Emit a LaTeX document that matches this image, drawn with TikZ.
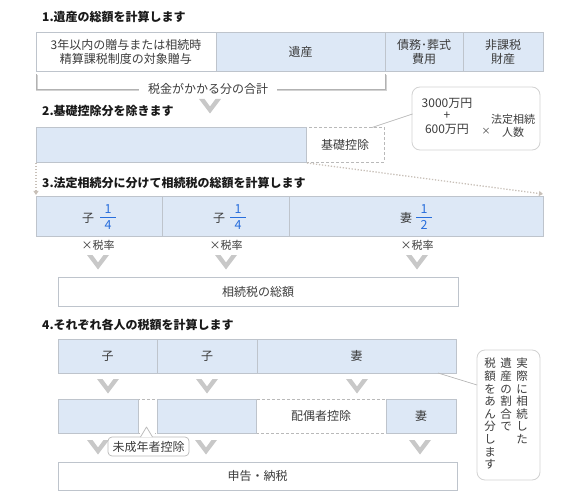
\documentclass[tikz,border=0pt]{standalone}
\usepackage{fontspec}
\setmainfont{Noto Sans CJK JP}
\usetikzlibrary{arrows.meta}
\definecolor{bfill}{RGB}{221,232,246}
\definecolor{bline}{RGB}{190,196,204}
\definecolor{fb}{RGB}{40,110,220}
\definecolor{chevc}{RGB}{200,200,200}
\definecolor{dotc}{RGB}{200,192,184}
\definecolor{txt}{RGB}{60,60,60}
\definecolor{ttl}{RGB}{25,25,25}
\tikzset{
  base/.style={font=\fontsize{12}{14}\selectfont, text=txt, inner sep=0pt},
  bbox/.style={base, draw=bline, fill=bfill, line width=0.8pt},
  wbox/.style={base, draw=bline, fill=white, line width=0.8pt},
  dbox/.style={base, draw=gray!55, dashed, dash pattern=on 3pt off 2pt, line width=0.7pt},
  ttlstyle/.style={font=\bfseries\fontsize{12}{14}\selectfont, text=ttl, inner sep=0pt, anchor=west},
  small/.style={font=\fontsize{11}{12}\selectfont, text=txt, inner sep=0pt},
  callout/.style={draw=gray!35, fill=white, rounded corners=8pt, line width=0.8pt, inner sep=0pt},
  chev/.pic={\fill[chevc] (-11,0) -- (-5.5,0) -- (0,7.5) -- (5.5,0) -- (11,0) -- (0,14.5) -- cycle;},
  dotline/.style={draw=dotc, line width=1.3pt, dash pattern=on 1.3pt off 1.7pt, -{Triangle[length=4pt,width=5pt]}},
  fnum/.style={font=\fontsize{12.5}{12}\selectfont, text=fb, inner sep=0pt},
}
\begin{document}
\begin{tikzpicture}[x=1pt,y=-1pt]
\useasboundingbox (0,0) rectangle (576,500);

% ---------- step 1 ----------
\node[ttlstyle] (t1) at (42,17) {1.遺産の総額を計算します};
\node[wbox, minimum width=180pt, minimum height=39pt, align=center] (r1a) at (126,51.5)
  {\fontsize{12}{16}\selectfont 3年以内の贈与または相続時\\精算課税制度の対象贈与};
\node[bbox, minimum width=169pt, minimum height=39pt] (r1b) at (300.5,51.5) {遺産};
\node[bbox, minimum width=78pt, minimum height=39pt, align=center] (r1c) at (424,51.5)
  {\fontsize{12}{16}\selectfont 債務･葬式\\費用};
\node[bbox, minimum width=80pt, minimum height=39pt, align=center] (r1d) at (503,51.5)
  {\fontsize{12}{16}\selectfont 非課税\\財産};

\coordinate (brA) at (36,74);
\coordinate (brB) at (36,89.5);
\coordinate (brC) at (385,89.5);
\coordinate (brD) at (385,74);
\draw[gray!35, line width=1.2pt] ([shift={(1,1)}]brA) -- ([shift={(1,1)}]brB) -- ([shift={(1,1)}]brC) -- ([shift={(1,1)}]brD);
\draw[gray!60, line width=1pt] (brA) -- (brB) -- (brC) -- (brD);
\node[base, fill=white, inner xsep=9pt, inner ysep=2pt] (sum) at (208,89) {税金がかかる分の合計};
\pic at (210,99) {chev};

% ---------- step 2 ----------
\node[ttlstyle] (t2) at (42,111) {2.基礎控除分を除きます};
\node[dbox, minimum width=78pt, minimum height=35pt] (kd) at (345,144.5) {基礎控除};
\node[bbox, minimum width=270pt, minimum height=35pt] (r2) at (171,144.5) {};

\node[callout, minimum width=128pt, minimum height=63pt] (kc) at (476,118.5) {};
\node[base] (kc1) at (447,103) {3000万円};
\node[base] (kc2) at (447,116) {+};
\node[base] (kc3) at (447,129) {600万円};
\node[small, font=\fontsize{9}{10}\selectfont] (kc4) at (486,131) {×};
\node[small, align=center, font=\fontsize{11}{13}\selectfont] (kc5) at (513,126) {法定相続\\人数};
\coordinate (kdtip) at (372,127.5);
\coordinate (kcin) at (412.5,114);
\draw[gray!55, line width=0.7pt] (kdtip) -- (kcin);

\coordinate (dl0) at (36,163);
\coordinate (dl1) at (36,195);
\coordinate (dr0) at (307,163);
\coordinate (dr1) at (543,194);
\draw[dotline] (dl0) -- (dl1);
\draw[dotline] (dr0) -- (dr1);

% ---------- step 3 ----------
\node[ttlstyle] (t3) at (42,183) {3.法定相続分に分けて相続税の総額を計算します};
\node[bbox, minimum width=126pt, minimum height=40pt] (r3a) at (99,216) {};
\node[bbox, minimum width=127pt, minimum height=40pt] (r3b) at (225.5,216) {};
\node[bbox, minimum width=254pt, minimum height=40pt] (r3c) at (416,216) {};

\node[base] (k1) at (88,218) {子};
\node[fnum] (f1n) at (108,209.5) {1};
\node[fnum] (f1d) at (108,225) {4};
\draw[fb, line width=0.8pt] (100,217) -- (116,217);
\node[base] (k2) at (219,218) {子};
\node[fnum] (f2n) at (238,209.5) {1};
\node[fnum] (f2d) at (238,225) {4};
\draw[fb, line width=0.8pt] (230,217) -- (246,217);
\node[base] (w1) at (406,218) {妻};
\node[fnum] (f3n) at (424,209.5) {1};
\node[fnum] (f3d) at (424,225) {2};
\draw[fb, line width=0.8pt] (416,217) -- (432,217);

\node[small] (x1) at (98,245) {×税率};
\node[small] (x2) at (226,245) {×税率};
\node[small] (x3) at (417,245) {×税率};
\pic at (98,255) {chev};
\pic at (226,255) {chev};
\pic at (417,255) {chev};

\node[wbox, minimum width=400pt, minimum height=29pt] (tot) at (258,291.5) {相続税の総額};

% ---------- step 4 ----------
\node[ttlstyle] (t4) at (42,325) {4.それぞれ各人の税額を計算します};
\node[bbox, minimum width=99pt, minimum height=34pt] (r4a) at (107.5,356) {子};
\node[bbox, minimum width=100pt, minimum height=34pt] (r4b) at (207,356) {子};
\node[bbox, minimum width=199pt, minimum height=34pt] (r4c) at (356.5,356) {妻};

\pic at (108,379) {chev};
\pic at (207,379) {chev};
\pic at (357,379) {chev};

\node[dbox, minimum width=19pt, minimum height=34pt] (gap) at (147.5,416) {};
\fill[white] (140,405) rectangle (155,434.5);
\node[dbox, minimum width=130pt, minimum height=34pt] (hk) at (321,416) {配偶者控除};
\node[bbox, minimum width=80pt, minimum height=34pt] (r5a) at (98,416) {};
\node[bbox, minimum width=99pt, minimum height=34pt] (r5b) at (206.5,416) {};
\node[bbox, minimum width=70pt, minimum height=34pt] (r5c) at (421,416) {妻};

\pic at (98,440) {chev};
\pic at (206,440) {chev};
\pic at (420,440) {chev};

\node[draw=gray!55, fill=white, rounded corners=4pt, line width=0.7pt, minimum width=81pt, minimum height=19pt, base] (mk) at (148.5,446.5) {未成年者控除};
\coordinate (mkp) at (146.5,427);
\fill[white] (140.5,437.2) -- (mkp) -- (152.5,437.2) -- cycle;
\draw[gray!55, line width=0.7pt, line join=round] (140.5,437) -- (mkp) -- (152.5,437);

\node[wbox, minimum width=399pt, minimum height=28pt] (fin) at (257.5,476) {申告・納税};

% right callout
\node[callout, minimum width=63pt, minimum height=130pt] (rc) at (508.5,415) {};
\coordinate (rcin) at (477,385);
\coordinate (r4tip) at (438,373);
\draw[gray!55, line width=0.7pt] (r4tip) -- (rcin);
\node[small, align=center, anchor=north, font=\fontsize{11.5}{12.6}\selectfont] (v1) at (522,358)
  {実\\際\\に\\相\\続\\し\\た};
\node[small, align=center, anchor=north, font=\fontsize{11.5}{12.6}\selectfont] (v2) at (506,358)
  {遺\\産\\の\\割\\合\\で};
\node[small, align=center, anchor=north, font=\fontsize{11.5}{12.6}\selectfont] (v3) at (490,358)
  {税\\額\\を\\あ\\ん\\分\\し\\ま\\す};
\end{tikzpicture}
\end{document}
